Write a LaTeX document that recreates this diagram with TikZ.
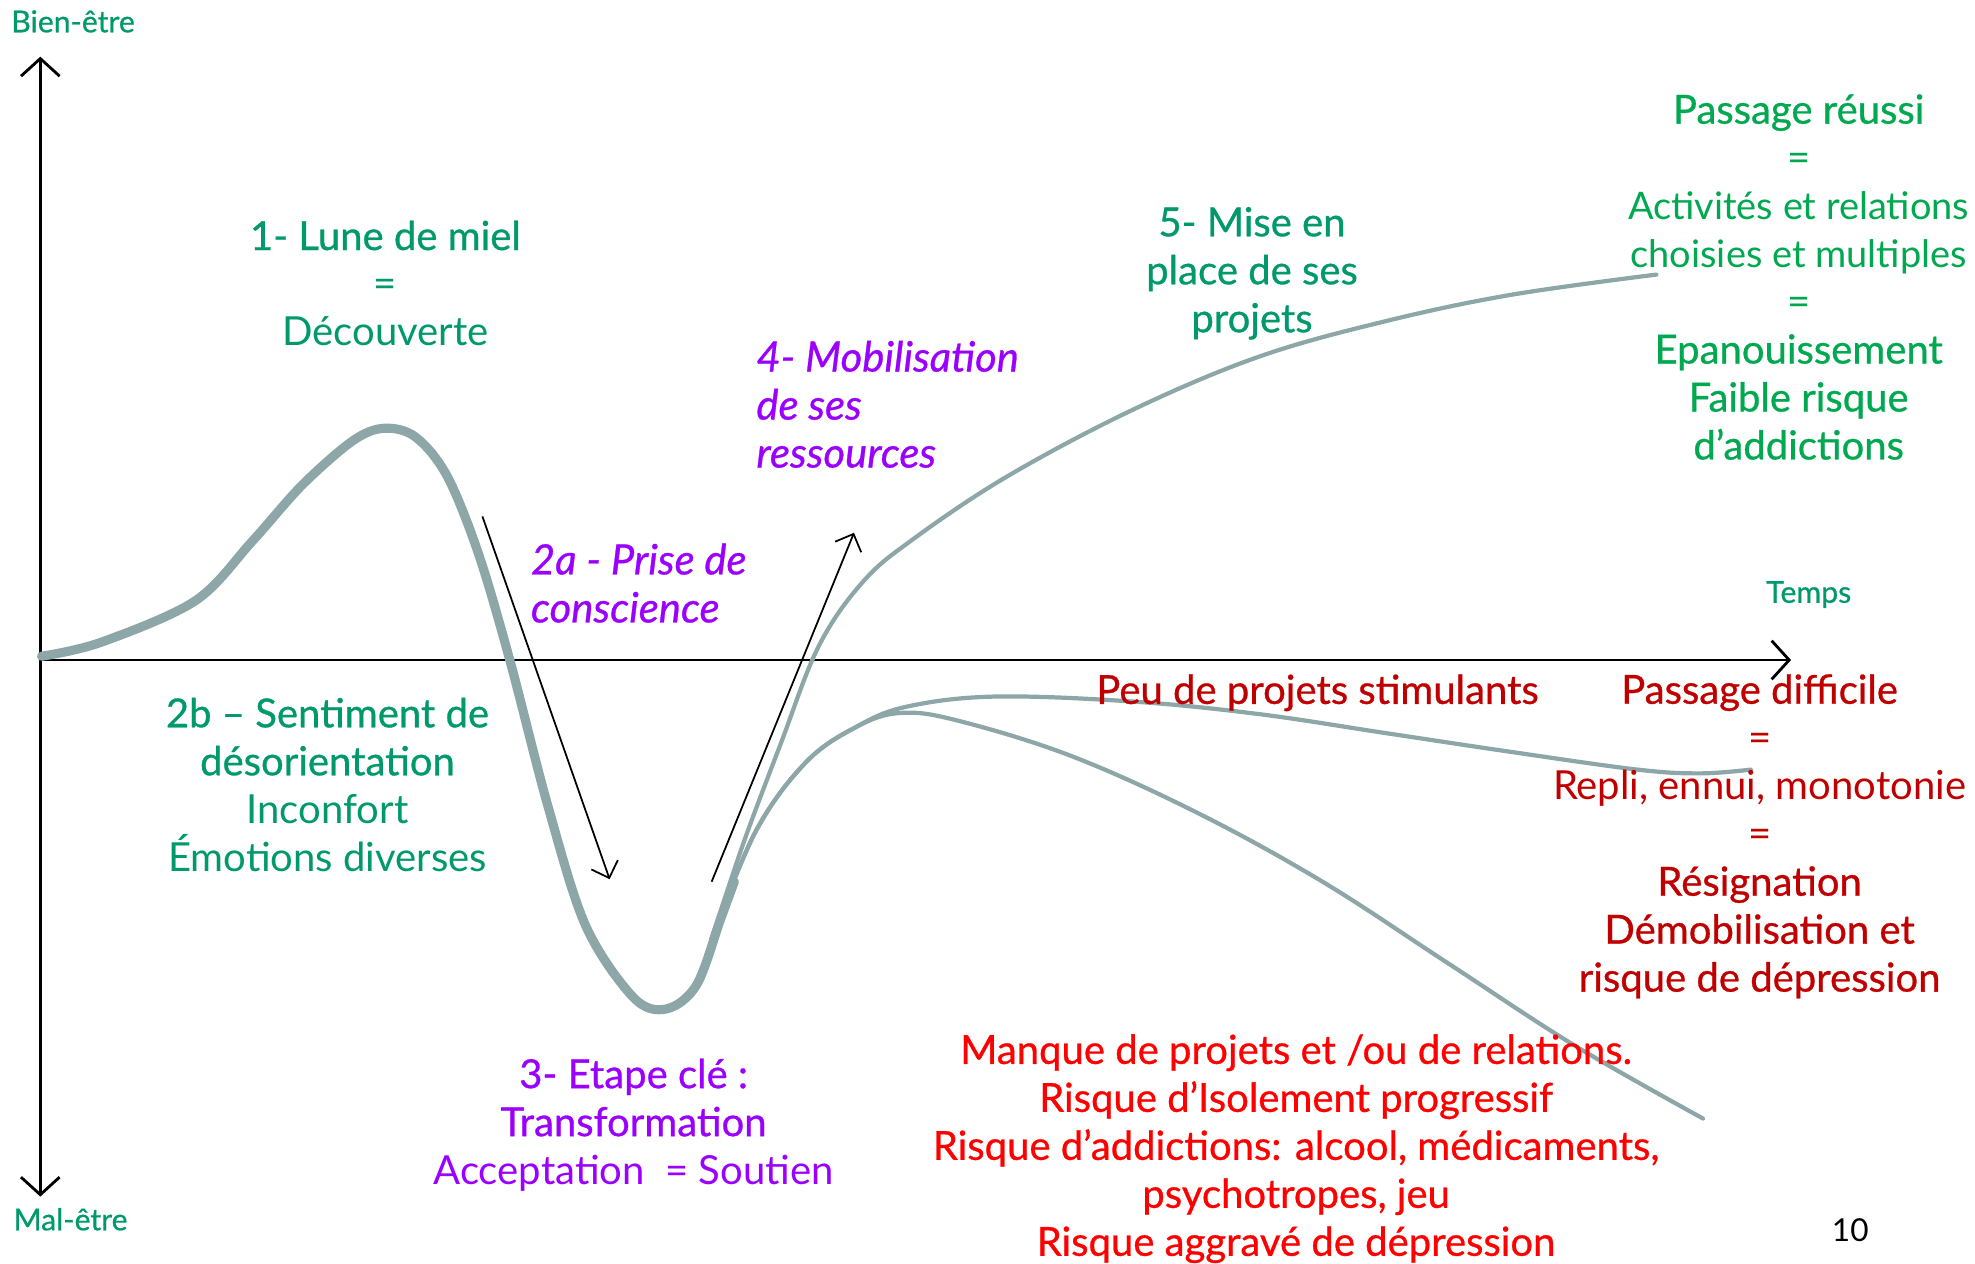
\documentclass[tikz,border=0pt]{standalone}
\usepackage{fontspec}
\setmainfont{Lato}
\newfontfamily\medfont[FakeBold=0.7]{Lato}
\usetikzlibrary{arrows.meta}
\definecolor{vertB}{HTML}{00996B}
\definecolor{vertC}{HTML}{00A850}
\definecolor{mauve}{HTML}{9B00FF}
\definecolor{rougeF}{HTML}{C00000}
\definecolor{rougeV}{HTML}{FF0000}
\definecolor{courbe}{HTML}{8DA6A7}

\begin{document}
\begin{tikzpicture}[x=0.0126cm,y=-0.0126cm]
	\tikzset{
		txt/.style={align=center,inner sep=0pt,font=\fontsize{11.4}{13.66}\selectfont},
		ital/.style={txt,align=left,anchor=west,font=\fontsize{11.9}{13.66}\selectfont\medfont\itshape},
		axe/.style={line width=0.8pt,-{Straight Barb[length=5pt,width=11pt]}},
		fleche/.style={line width=0.5pt,-{Straight Barb[length=4pt,width=8pt]}},
		grosse/.style={courbe,line width=2.6pt,line cap=round},
		fine/.style={courbe,line width=1.2pt,line cap=round},
		petit/.style={inner sep=0pt,font=\fontsize{8.6}{10}\selectfont\medfont,text=vertB}
	}
	\useasboundingbox (0,0) rectangle (1568,1003);
	% axes
	\coordinate (O) at (32,524);
	\coordinate (haut) at (32,45);
	\coordinate (bas) at (32,950);
	\coordinate (droite) at (1422,524);
	\draw[axe] (O) -- (haut);
	\draw[axe] (O) -- (bas);
	\draw[axe] (O) -- (droite);
	\node[petit] (bien) at (58,17) {Bien-être};
	\node[petit] (mal) at (56,968) {Mal-être};
	\node[petit] (temps) at (1436,472) {Temps};
	% courbes
	\draw[grosse] plot[smooth,tension=0.55] coordinates {(33,521) (80,510) (155,477) (200,430) (240,385) (280,350) (305,340) (330,347) (355,378) (380,440) (405,525) (435,640) (465,735) (503,792) (529,801) (553,782) (572,730) (583,700)};
	\draw[fine] plot[smooth,tension=0.6] coordinates {(565,745) (590,670) (620,590) (650,513) (685,462) (725,428) (800,378) (900,325) (1000,283) (1100,255) (1200,234) (1315,218)};
	\draw[fine] plot[smooth,tension=0.6] coordinates {(565,745) (600,660) (640,605) (680,577) (720,561) (790,553) (900,557) (1000,567) (1100,582) (1200,597) (1300,611) (1350,614) (1390,611)};
	\draw[fine] plot[smooth,tension=0.6] coordinates {(565,745) (600,660) (640,605) (680,577) (715,566) (760,572) (850,600) (950,645) (1050,700) (1150,765) (1250,830) (1352,888)};
	% fleches
	\coordinate (a2d) at (383,410);
	\coordinate (a2f) at (484,698);
	\coordinate (a4d) at (565,700);
	\coordinate (a4f) at (678,423);
	\draw[fleche] (a2d) -- (a2f);
	\draw[fleche] (a4d) -- (a4f);
	% textes
	\node[txt,text=vertB] (lune) at (306,225) {{\medfont 1- Lune de miel}\\=\\Découverte};
	\node[txt,text=vertB] (desorient) at (260,623) {{\medfont 2b – Sentiment de}\\{\medfont désorientation}\\Inconfort\\Émotions diverses};
	\node[ital,text=mauve] (prise) at (421,463) {2a - Prise de\\conscience};
	\node[txt,text=mauve] (etape) at (503,893) {{\medfont 3- Etape clé :}\\{\medfont Transformation}\\Acceptation~~= Soutien};
	\node[ital,text=mauve] (mobil) at (600,321) {4- Mobilisation\\de ses\\ressources};
	\node[txt,text=vertB,font=\fontsize{11.4}{13.66}\selectfont\medfont] (projets) at (994,217) {5- Mise en\\place de ses\\projets};
	\node[txt,text=vertC] (reussi) at (1428,220) {{\medfont Passage réussi}\\=\\{\fontsize{10.8}{13.66}\selectfont Activités et relations}\\{\fontsize{10.8}{13.66}\selectfont choisies et multiples}\\=\\{\medfont Epanouissement}\\{\medfont Faible risque}\\{\medfont d’addictions}};
	\node[txt,text=rougeF,font=\fontsize{11.4}{13.66}\selectfont\medfont] (peu) at (1046,550) {Peu de projets stimulants};
	\node[txt,text=rougeF] (difficile) at (1397,664) {{\medfont Passage difficile}\\=\\Repli, ennui, monotonie\\=\\{\medfont Résignation}\\{\medfont Démobilisation et}\\{\medfont risque de dépression}};
	\node[txt,text=rougeV,font=\fontsize{11.4}{13.66}\selectfont\medfont] (manque) at (1029,912) {Manque de projets et /ou de relations.\\Risque d’Isolement progressif\\Risque d’addictions: alcool, médicaments,\\psychotropes, jeu\\Risque aggravé de dépression};
	\node[inner sep=0pt,font=\fontsize{9}{11}\selectfont] (num) at (1469,977) {10};
\end{tikzpicture}
\end{document}
